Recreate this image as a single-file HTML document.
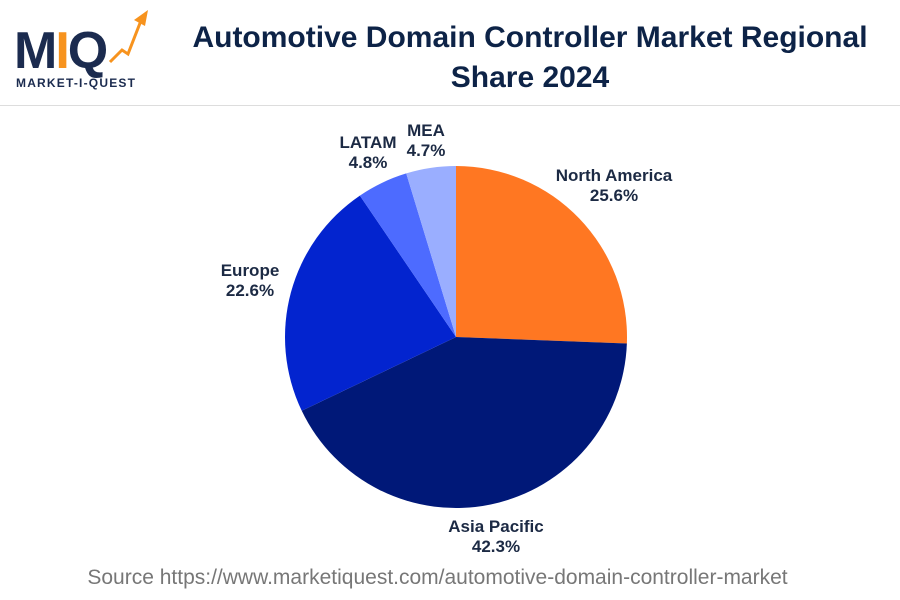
<!DOCTYPE html>
<html><head><meta charset="utf-8"><style>
body{margin:0;width:900px;height:600px;background:#fff;font-family:"Liberation Sans",sans-serif;position:relative;overflow:hidden}
.t{position:absolute;left:155px;width:750px;top:18px;text-align:center;font-weight:bold;font-size:30px;line-height:40px;color:#0d2347}
.lbl{font-family:"Liberation Sans",sans-serif;font-weight:bold;font-size:17px;fill:#1c2a44}
</style></head><body>
<div style="position:absolute;left:14px;top:10px;width:130px;height:80px">
<div style="position:absolute;left:0px;top:14px;font-weight:900;font-size:52px;color:#1b2b4f;letter-spacing:-2px;line-height:54px">M<span style="color:#f7931e">I</span>Q</div>
<svg style="position:absolute;left:0;top:0" width="140" height="80"><path d="M96 52 L108 40 L114 44 L128 8" stroke="#f7931e" stroke-width="3" fill="none"/><polygon points="120,10 134,0 131,16" fill="#f7931e"/></svg>
<div style="position:absolute;left:2px;top:66px;font-weight:bold;font-size:12px;color:#1b2b4f;letter-spacing:1.2px">MARKET-I-QUEST</div>
</div>
<div class="t">Automotive Domain Controller Market Regional<br>Share 2024</div>
<div style="position:absolute;left:0;top:105px;width:900px;height:1px;background:#ddd"></div>
<svg id="chart" width="900" height="600" style="position:absolute;left:0;top:0"></svg>
<div style="position:absolute;left:0;width:875px;top:566px;text-align:center;font-size:21px;color:#777">Source https://www.marketiquest.com/automotive-domain-controller-market</div>
<script>
const categories=["North America","Asia Pacific","Europe","LATAM","MEA"];
const values=[25.6,42.3,22.6,4.8,4.7];
const colors=["#ff7722","#001878","#0324cf","#4d6bff","#9aaeff"];
const labelPos=[[614,181],[496,532],[250,276],[368,148],[426,136]];
const svg=document.getElementById('chart');
const NS="http://www.w3.org/2000/svg";
const cx=456,cy=337,r=171;
const total=values.reduce((a,b)=>a+b,0);
let a0=0;
values.forEach((v,i)=>{
  const a1=a0+v/total*2*Math.PI;
  const x0=cx+r*Math.sin(a0),y0=cy-r*Math.cos(a0),x1=cx+r*Math.sin(a1),y1=cy-r*Math.cos(a1);
  const p=document.createElementNS(NS,'path');
  p.setAttribute('d',`M${cx} ${cy} L${x0} ${y0} A${r} ${r} 0 ${a1-a0>Math.PI?1:0} 1 ${x1} ${y1} Z`);
  p.setAttribute('fill',colors[i]);
  
  
  svg.appendChild(p);
  const t=document.createElementNS(NS,'text');
  t.setAttribute('class','lbl');t.setAttribute('text-anchor','middle');
  t.setAttribute('x',labelPos[i][0]);t.setAttribute('y',labelPos[i][1]);
  
  
  const s1=document.createElementNS(NS,'tspan');s1.textContent=categories[i];s1.setAttribute('x',labelPos[i][0]);
  const s2=document.createElementNS(NS,'tspan');s2.textContent=v.toFixed(1)+'%';s2.setAttribute('x',labelPos[i][0]);s2.setAttribute('dy','20');
  t.appendChild(s1);t.appendChild(s2);svg.appendChild(t);
  a0=a1;
});
</script>
</body></html>
